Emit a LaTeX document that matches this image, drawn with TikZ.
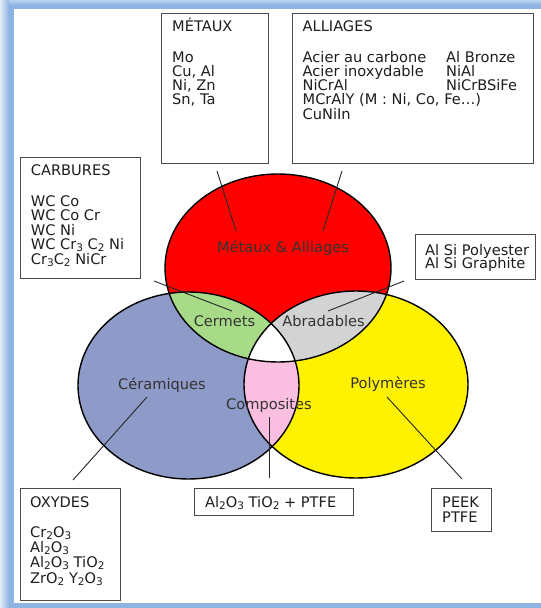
\documentclass[tikz,border=0pt]{standalone}
\usepackage{fontspec}
\setmainfont{DejaVu Sans}
\definecolor{frameblue}{RGB}{141,180,226}
\definecolor{ceram}{RGB}{142,154,200}
\definecolor{cermet}{RGB}{168,219,135}
\definecolor{abrad}{RGB}{211,211,211}
\definecolor{compo}{RGB}{249,190,224}
\definecolor{txtgray}{RGB}{30,30,30}
\newcommand\sbs[1]{\raisebox{-2pt}{\fontsize{10.5}{10.5}\selectfont #1}}
\begin{document}
\begin{tikzpicture}[x=1pt,y=-1pt,
  boxst/.style={draw=black!70, line width=1.1pt, fill=white, inner sep=0pt, anchor=north west},
  ln/.style={anchor=base west, inner sep=0pt, text=txtgray, font=\fontsize{14.6}{15}\selectfont},
  lab/.style={anchor=base, inner sep=0pt, text=black!80, font=\fontsize{14.6}{15}\selectfont},
  conn/.style={draw=black!85, line width=0.9pt},
  outl/.style={draw=black, line width=1.4pt}]
\useasboundingbox (0,0) rectangle (541,608);
% frame
\fill[frameblue] (0,0) rectangle (541,608);
\shade[left color=frameblue!25, right color=frameblue] (0,0) rectangle (9,608);
\shade[top color=frameblue!60, bottom color=frameblue] (9,0) rectangle (541,5);
\fill[white] (14,9) rectangle (541,603);
% ellipses
\def\redE{(278,268) ellipse [x radius=113, y radius=94]}
\def\blueE{(188.5,385.5) ellipse [x radius=110.5, y radius=93.5]}
\def\yelE{(356,384.5) ellipse [x radius=112, y radius=93.5]}
\fill[red] \redE;
\fill[ceram] \blueE;
\fill[yellow] \yelE;
\begin{scope}\clip \redE; \fill[cermet] \blueE; \end{scope}
\begin{scope}\clip \redE; \fill[abrad] \yelE; \end{scope}
\begin{scope}\clip \blueE; \fill[compo] \yelE; \end{scope}
\begin{scope}\clip \redE; \clip \blueE; \fill[white] \yelE; \end{scope}
\draw[outl] \redE;
\draw[outl] \blueE;
\draw[outl] \yelE;
% labels
\node[lab] (lmet) at (283,252) {Métaux \& Alliages};
\node[lab] (lcer) at (224.5,326.5) {Cermets};
\node[lab] (labr) at (323.5,326.5) {Abradables};
\node[lab] (lcera) at (162,389) {Céramiques};
\node[lab] (lcomp) at (269,409) {Composites};
\node[lab] (lpol) at (388,388) {Polymères};
% connectors
\coordinate (m1a) at (217,171); \coordinate (m1b) at (236,231);
\coordinate (m2a) at (342,171); \coordinate (m2b) at (323,231);
\coordinate (c1a) at (154,281); \coordinate (c1b) at (232,311);
\coordinate (a1a) at (328,311); \coordinate (a1b) at (404,281);
\coordinate (k1a) at (147,397); \coordinate (k1b) at (73,480);
\coordinate (p1a) at (269,417); \coordinate (p1b) at (269,478);
\coordinate (y1a) at (387,397); \coordinate (y1b) at (462,479);
\draw[conn] (m1a) -- (m1b);
\draw[conn] (m2a) -- (m2b);
\draw[conn] (c1a) -- (c1b);
\draw[conn] (a1a) -- (a1b);
\draw[conn] (k1a) -- (k1b);
\draw[conn] (p1a) -- (p1b);
\draw[conn] (y1a) -- (y1b);
% MÉTAUX
\node[boxst, minimum width=107pt, minimum height=150pt] (bmet) at (161,13) {};
\node[ln] (mt0) at (172,31) {MÉTAUX};
\node[ln] (mt1) at (172,62) {Mo};
\node[ln] (mt2) at (172,76.3) {Cu, Al};
\node[ln] (mt3) at (172,90.6) {Ni, Zn};
\node[ln] (mt4) at (172,104.9) {Sn, Ta};
% ALLIAGES
\node[boxst, minimum width=241.3pt, minimum height=150pt] (ball) at (291.7,13) {};
\node[ln] (al0) at (302.5,31) {ALLIAGES};
\node[ln] (al1) at (302.5,62) {Acier au carbone};
\node[ln] (al2) at (302.5,76.3) {Acier inoxydable};
\node[ln] (al3) at (302.5,90.6) {NiCrAl};
\node[ln] (al4) at (302.5,104.9) {MCrAlY (M : Ni, Co, Fe…)};
\node[ln] (al5) at (302.5,119.2) {CuNiIn};
\node[ln] (ar1) at (446,62) {Al Bronze};
\node[ln] (ar2) at (446,76.3) {NiAl};
\node[ln] (ar3) at (446,90.6) {NiCrBSiFe};
% CARBURES
\node[boxst, minimum width=120pt, minimum height=121pt] (bcar) at (20,157) {};
\node[ln] (ca0) at (30.7,175) {CARBURES};
\node[ln] (ca1) at (30.7,206) {WC Co};
\node[ln] (ca2) at (30.7,220.5) {WC Co Cr};
\node[ln] (ca3) at (30.7,235) {WC Ni};
\node[ln] (ca4) at (30.7,249.5) {WC Cr\sbs{3} C\sbs{2} Ni};
\node[ln] (ca5) at (30.7,264) {Cr\sbs{3}C\sbs{2} NiCr};
% Al Si
\node[boxst, minimum width=120pt, minimum height=45pt] (bals) at (415,234) {};
\node[ln] (as1) at (425,255) {Al Si Polyester};
\node[ln] (as2) at (425,268.5) {Al Si Graphite};
% OXYDES
\node[boxst, minimum width=100pt, minimum height=112pt] (boxy) at (20,488) {};
\node[ln] (ox0) at (30,507) {OXYDES};
\node[ln] (ox1) at (30,537) {Cr\sbs{2}O\sbs{3}};
\node[ln] (ox2) at (30,552) {Al\sbs{2}O\sbs{3}};
\node[ln] (ox3) at (30,567.5) {Al\sbs{2}O\sbs{3} TiO\sbs{2}};
\node[ln] (ox4) at (30,583) {ZrO\sbs{2} Y\sbs{2}O\sbs{3}};
% composites
\node[boxst, minimum width=159pt, minimum height=27pt] (bcomp) at (194,488) {};
\node[ln] (co1) at (205,507) {Al\sbs{2}O\sbs{3} TiO\sbs{2} + PTFE};
% PEEK
\node[boxst, minimum width=60pt, minimum height=43pt] (bpeek) at (431,488) {};
\node[ln] (pe1) at (442,507) {PEEK};
\node[ln] (pe2) at (442,522) {PTFE};
\end{tikzpicture}
\end{document}
